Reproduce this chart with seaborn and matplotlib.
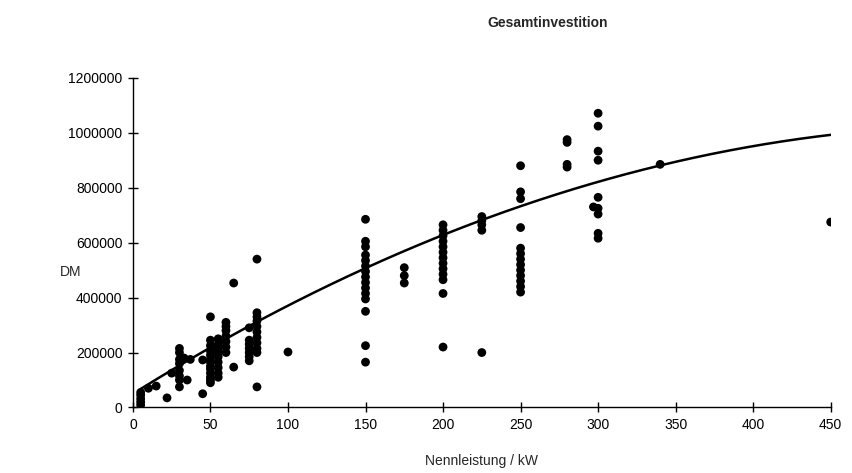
import numpy as np
import pandas as pd
import seaborn as sns
import matplotlib.pyplot as plt

# rated power (kW) and total investment (DM)
leistung_kw = (
    [5] * 5 + [10, 15, 22, 25] + [30] * 8 + [33, 35, 37, 45, 45]
    + [50] * 13 + [55] * 9 + [60] * 7 + [65, 65] + [75] * 7 + [80] * 11
    + [100] + [150] * 15 + [175] * 3 + [200] * 13 + [225] * 5
    + [250] * 13 + [280] * 4 + [300] * 9 + [297, 340, 450]
)
investition_dm = (
    [9000, 20000, 32000, 45000, 55000]
    + [70000, 78000, 35000, 125000]
    + [215000, 200000, 175000, 160000, 135000, 115000, 100000, 75000]
    + [180000, 100000, 175000, 50000, 173000]
    + [330000, 245000, 225000, 205000, 190000, 175000, 165000, 150000, 140000,
       125000, 110000, 100000, 90000]
    + [250000, 230000, 215000, 200000, 185000, 165000, 145000, 125000, 110000]
    + [310000, 295000, 280000, 260000, 240000, 220000, 200000]
    + [147000, 453000]
    + [290000, 245000, 230000, 215000, 200000, 185000, 170000]
    + [540000, 345000, 330000, 315000, 295000, 275000, 255000, 235000, 215000,
       200000, 75000]
    + [202000]
    + [685000, 605000, 585000, 555000, 535000, 515000, 495000, 475000, 455000,
       435000, 415000, 395000, 350000, 225000, 165000]
    + [509000, 480000, 453000]
    + [665000, 645000, 625000, 605000, 585000, 565000, 545000, 525000, 505000,
       485000, 465000, 415000, 220000]
    + [695000, 680000, 665000, 645000, 200000]
    + [880000, 785000, 760000, 655000, 580000, 560000, 540000, 520000, 500000,
       480000, 460000, 440000, 420000]
    + [975000, 965000, 885000, 875000]
    + [1071000, 1024000, 933000, 900000, 765000, 725000, 704000, 634000, 616000]
    + [730000, 885000, 675000]
)

# polynomial trendline (order 2) as shown in the chart: a*x^2 + b*x + c
trend_coef = [-3.18, 3525.2, 50000]
trend_range = [5, 450]

df = pd.DataFrame({"Nennleistung": leistung_kw, "DM": investition_dm})
trend_x = np.linspace(trend_range[0], trend_range[1], 200)
trend_df = pd.DataFrame({"Nennleistung": trend_x,
                         "DM": np.polyval(trend_coef, trend_x)})

sns.set_theme(style="ticks")
plt.rcParams['font.family'] = ['Liberation Sans', 'DejaVu Sans']

fig = plt.figure(figsize=(8.52, 4.73), dpi=100)
ax = fig.add_axes([0.156, 0.1385, 0.819, 0.697])

sns.scatterplot(data=df, x="Nennleistung", y="DM", ax=ax, color="black",
                s=40, edgecolor="none", zorder=2)
sns.lineplot(data=trend_df, x="Nennleistung", y="DM", ax=ax, color="black",
             linewidth=1.8, zorder=3)

ax.set_xlim(0, 450)
ax.set_ylim(0, 1200000)
ax.set_xticks(range(0, 451, 50))
ax.set_yticks(range(0, 1200001, 200000))
ax.ticklabel_format(style="plain", axis="y")
ax.tick_params(direction="inout", length=7, width=1, colors="black",
               labelsize=10, pad=4)
sns.despine(ax=ax)
for sp in ["left", "bottom"]:
    ax.spines[sp].set_color("black")
    ax.spines[sp].set_linewidth(1)

ax.set_xlabel("Nennleistung / kW", fontsize=10, labelpad=16)
ax.set_ylabel("DM", fontsize=10, rotation=0, labelpad=0)
ax.yaxis.set_label_coords(-0.089, 0.39)

fig.text(0.643, 0.951, "Gesamtinvestition", ha="center", va="center",
         fontsize=10, fontweight="bold")

fig.savefig("out.png", dpi=100)
